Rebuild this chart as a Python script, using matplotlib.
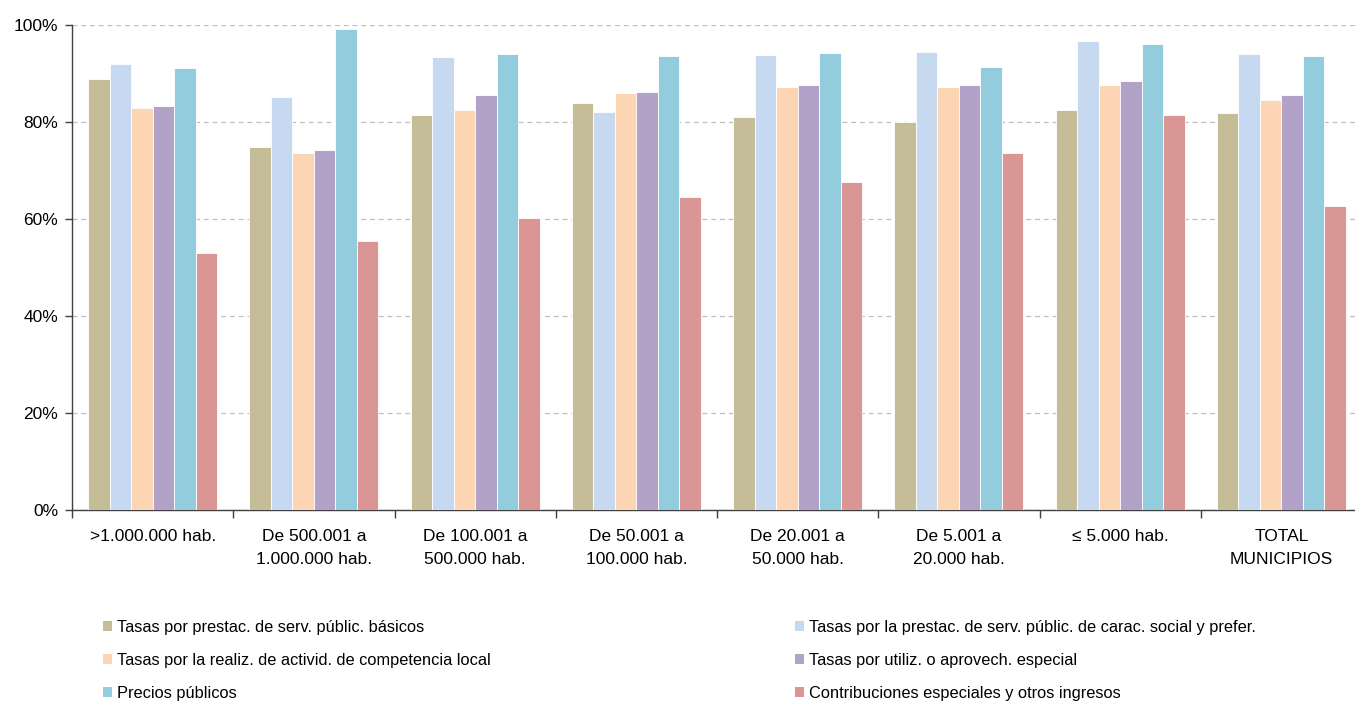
import matplotlib
matplotlib.use("Agg")
import matplotlib.pyplot as plt
import numpy as np
from matplotlib.patches import Patch
from matplotlib.ticker import FuncFormatter, MultipleLocator

plt.rcParams['font.family'] = ['Liberation Sans', 'DejaVu Sans']

categories = [">1.000.000 hab.", "De 500.001 a\n1.000.000 hab.", "De 100.001 a\n500.000 hab.",
              "De 50.001 a\n100.000 hab.", "De 20.001 a\n50.000 hab.", "De 5.001 a\n20.000 hab.",
              "\u2264 5.000 hab.", "TOTAL\nMUNICIPIOS"]

series_names = ["Tasas por prestac. de serv. públic. básicos",
                "Tasas por la prestac. de serv. públic. de carac. social y prefer.",
                "Tasas por la realiz. de activid. de competencia local",
                "Tasas por utiliz. o aprovech. especial",
                "Precios públicos",
                "Contribuciones especiales y otros ingresos"]

basicos = [88.9, 74.8, 81.4, 84.0, 81.0, 79.9, 82.5, 81.8]
social = [92.0, 85.2, 93.3, 82.1, 93.8, 94.5, 96.8, 94.0]
competencia = [82.9, 73.7, 82.5, 86.0, 87.2, 87.2, 87.7, 84.5]
utilizacion = [83.4, 74.2, 85.6, 86.2, 87.7, 87.7, 88.4, 85.5]
precios = [91.2, 99.1, 94.1, 93.6, 94.3, 91.4, 96.0, 93.6]
contribuciones = [53.0, 55.5, 60.3, 64.6, 67.7, 73.7, 81.4, 62.7]

series = [basicos, social, competencia, utilizacion, precios, contribuciones]
colors = ["#C4BD97", "#C6D9F1", "#FCD5B5", "#B3A2C7", "#93CDDD", "#D99694"]

W, H = 1355, 701
fig = plt.figure(figsize=(W / 100, H / 100), dpi=100)
ax = fig.add_axes([72 / W, 1 - 510 / H, (1362 - 72) / W, (510 - 25) / H])

n = len(categories)
x = np.arange(n)
bw = 0.8 / 6
for i, (vals, c) in enumerate(zip(series, colors)):
    ax.bar(x - 0.4 + bw * (i + 0.5), vals, width=bw, color=c, edgecolor='white',
           linewidth=0.6, zorder=3)

ax.set_xlim(-0.5, n - 0.5)
ax.set_ylim(0, 100)
ax.yaxis.set_major_locator(MultipleLocator(20))
ax.yaxis.set_major_formatter(FuncFormatter(lambda v, p: f"{int(round(v))}%"))
ax.grid(axis='y', linestyle=(0, (4, 3)), color='#BFBFBF', linewidth=0.9, zorder=0)
ax.set_axisbelow(True)

ax.set_xticks(x)
ax.set_xticklabels(categories, fontsize=12.5, linespacing=1.65)
ax.set_xticks(np.arange(n + 1) - 0.5, minor=True)
ax.tick_params(axis='x', which='major', length=0, pad=14)
ax.tick_params(axis='x', which='minor', length=6, width=1, color='#404040', direction='out')
ax.tick_params(axis='y', labelsize=12.5, length=5, width=1, color='#404040', pad=5)

for s in ['top', 'right']:
    ax.spines[s].set_visible(False)
for s in ['left', 'bottom']:
    ax.spines[s].set_color('#404040')
    ax.spines[s].set_linewidth(1)

handles = [Patch(facecolor=c, edgecolor='none') for c in colors]
leg_kw = dict(frameon=False, fontsize=11.8, handlelength=0.55, handleheight=0.55,
              handletextpad=0.3, labelspacing=1.1, borderaxespad=0, borderpad=0)
l1 = fig.legend([handles[0], handles[2], handles[4]], [series_names[0], series_names[2], series_names[4]],
                loc='upper left', bbox_to_anchor=(103 / W, 1 - 620 / H), **leg_kw)
l2 = fig.legend([handles[1], handles[3], handles[5]], [series_names[1], series_names[3], series_names[5]],
                loc='upper left', bbox_to_anchor=(795 / W, 1 - 620 / H), **leg_kw)

fig.savefig("out.png", dpi=100)
